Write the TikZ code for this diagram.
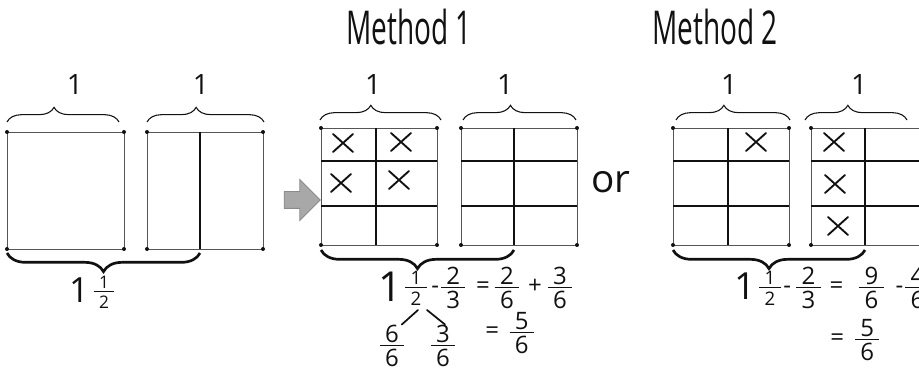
\documentclass[tikz,border=0pt]{standalone}
\usepackage{amsmath}
\usepackage{fontspec}
\setmainfont{Open Sans}
\newfontfamily\handfont[FakeStretch=0.6]{Open Sans}
\usetikzlibrary{decorations.pathreplacing,shapes.arrows}
\definecolor{skInk}{HTML}{111111}
\definecolor{skRim}{HTML}{555555}
\definecolor{skArrow}{HTML}{A8A8A8}
\definecolor{skArrowRim}{HTML}{8A8A8A}
% stacked fraction, centred on the axis
\newcommand\hfrac[2]{$\vcenter{\halign{\kern4pt\hfil##\hfil\kern4pt\cr #1\cr
  \noalign{\kern2pt\hrule height 0.9pt\kern2.5pt}#2\cr}}$}
\tikzset{
  boxline/.style  ={draw=skRim,line width=0.7pt},
  divline/.style  ={skInk,line width=1.8pt},
  corner/.style   ={fill=skInk},
  topbrace/.style ={decorate,decoration={brace,amplitude=11pt,aspect=0.42},
                    skInk,line width=0.8pt},
  lowbrace/.style ={decorate,decoration={brace,amplitude=14pt},
                    skInk,line width=2pt},
  xstroke/.style  ={skInk,line width=1.4pt,line cap=round},
  twig/.style     ={skInk,line width=1.3pt,line cap=round},
  xmark/.pic      ={\draw[xstroke] (-10,-9) -- (10,9) (-10,9) -- (10,-9);},
  unitlbl/.style  ={font=\fontsize{21}{21}\selectfont,text=skInk,inner sep=0pt,anchor=base},
  heading/.style  ={font=\handfont\fontsize{35}{35}\selectfont,text=skInk,inner sep=0pt,anchor=base},
  eq/.style       ={font=\fontsize{18}{19}\selectfont,text=skInk,inner sep=0pt},
  smalleq/.style  ={font=\fontsize{13}{14}\selectfont,text=skInk,inner sep=0pt},
  whole/.style    ={text=skInk,inner sep=0pt,anchor=base},
  pointer/.style  ={single arrow,fill=skArrow,draw=skArrowRim,line width=0.6pt,
                    minimum height=27pt,inner xsep=0pt,inner ysep=6pt,
                    single arrow head extend=9pt},
}
\begin{document}
\begin{tikzpicture}[x=0.75pt,y=-0.75pt]
\useasboundingbox (0,0) rectangle (919,373);
\clip (0,0) rectangle (919,373);

%% headings
\node[heading] (methA) at (409,45) {Method 1};
\node[heading] (methB) at (715,45) {Method 2};

%% the one and a half, before
\draw[boxline] (7,132) rectangle (124,249);
\draw[boxline] (147,132) rectangle (263,249);
\draw[divline] (200,132) -- (200,249);
\foreach \x in {7,124,147,263}
  \foreach \y in {132,249} \fill[corner] (\x,\y) circle (1.5pt);
\draw[topbrace] (7,122) -- (119,122);
\draw[topbrace] (147,122) -- (264,122);
\node[unitlbl] (oneA) at (75,95) {1};
\node[unitlbl] (oneB) at (201,95) {1};
\draw[lowbrace] (200,253) -- (7,253);
\node[whole,font=\fontsize{26}{26}\selectfont] (leftone) at (79,303) {1};
\node[smalleq] (lefthalf) at (104,292) {\hfrac{1}{2}};

\node[pointer] (go) at (298,200) {};

%% sixths grids
\foreach \l/\m in {321/376,461/514,673/728,811/865} {
  \draw[boxline] (\l,128) rectangle ++(116,117);
  \draw[divline] (\m,128) -- (\m,245);
  \draw[divline] (\l,161) -- ++(116,0) (\l,206) -- ++(116,0);
  \foreach \x in {0,116}
    \foreach \y in {128,245} \fill[corner] (\l+\x,\y) circle (1.5pt);
}
\draw[topbrace] (320,120) -- (441,120);
\draw[topbrace] (463,120) -- (576,120);
\draw[topbrace] (676,120) -- (790,120);
\draw[topbrace] (805,120) -- (907,120);
\node[unitlbl] (oneC) at (373,95) {1};
\node[unitlbl] (oneD) at (505,95) {1};
\node[unitlbl] (oneE) at (729,95) {1};
\node[unitlbl] (oneF) at (859,95) {1};
\draw[lowbrace] (514,250) -- (321,250);
\draw[lowbrace] (865,250) -- (673,250);

% crossed-out parts
\pic at (343,143) {xmark};
\pic at (401,142) {xmark};
\pic at (341,183) {xmark};
\pic at (399,180) {xmark};
\pic at (756,142) {xmark};
\pic at (834,142) {xmark};
\pic at (835,184) {xmark};
\pic at (838,226) {xmark};

\node[whole,font=\fontsize{29}{29}\selectfont] (orword) at (611,193) {or};

%% method 1 working
\node[whole,font=\fontsize{31}{31}\selectfont] (aone) at (390,302) {1};
\node[eq,font=\fontsize{14}{15}\selectfont] (ahalf) at (416,288) {\hfrac{1}{2}};
\node[eq,anchor=west] (arest) at (431,288)
  {-\hspace{1.5pt}\hfrac{2}{3}\hspace{8pt}=\hspace{3.7pt}\hfrac{2}{6}\hspace{6.7pt}+\hspace{4.5pt}\hfrac{3}{6}};
\node[eq,anchor=west] (asum) at (485,333) {=\hspace{8pt}\hfrac{5}{6}};
\node[eq] (asixsix) at (392,346) {\hfrac{6}{6}};
\node[eq] (athreesix) at (443,346) {\hfrac{3}{6}};
\coordinate (asplitL) at (418,310);
\coordinate (asplitR) at (427,310);
\draw[twig] (asplitL) -- ([xshift=-2pt]asixsix.north east);
\draw[twig] (asplitR) -- ([xshift=1.5pt]athreesix.north);

%% method 2 working
\node[whole,font=\fontsize{28}{28}\selectfont] (bone) at (745,300) {1};
\node[eq,font=\fontsize{14}{15}\selectfont] (bhalf) at (770,288) {\hfrac{1}{2}};
\node[eq,anchor=west] (brest) at (783,288)
  {-\hspace{4pt}\hfrac{2}{3}\hspace{6.7pt}=\hspace{12pt}\hfrac{9}{6}\hspace{8.9pt}-\hspace{1.5pt}\hfrac{4}{6}};
\node[eq,anchor=west] (bsum) at (830,340) {=\hspace{8.3pt}\hfrac{5}{6}};
\end{tikzpicture}
\end{document}
